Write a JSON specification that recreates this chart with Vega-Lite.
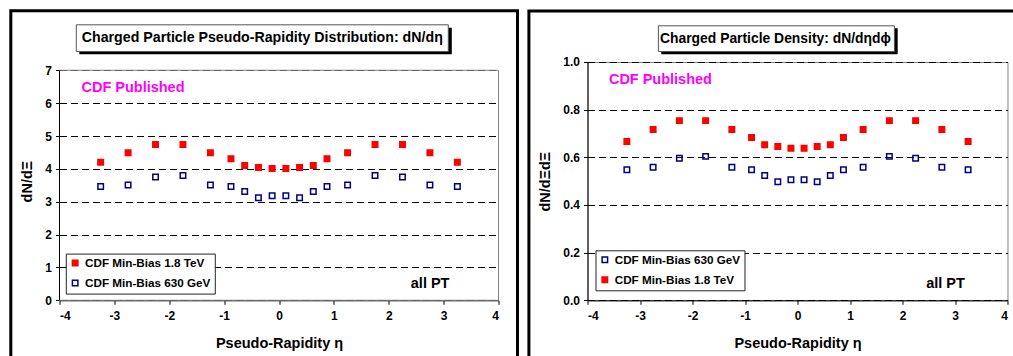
{
  "$schema": "https://vega.github.io/schema/vega-lite/v6.json",
  "padding": {"left": 8.5, "top": 9, "right": 0, "bottom": 0},
  "spacing": 7,
  "background": "white",
  "config": {
    "font": "Liberation Sans",
    "view": {"stroke": "#808080", "strokeWidth": 1},
    "axis": {
      "labelFont": "Liberation Sans", "labelFontWeight": "bold", "labelFontSize": 12, "labelColor": "black",
      "titleFont": "Liberation Sans", "titleFontWeight": "bold", "titleFontSize": 14.5, "titleColor": "black",
      "domainColor": "black", "tickColor": "black", "tickSize": 4
    },
    "axisY": {"grid": true, "gridColor": "black", "gridDash": [7, 4], "gridWidth": 1, "gridOpacity": 1, "labelPadding": 4, "titlePadding": 10},
    "axisX": {"grid": false, "labelPadding": 6, "titlePadding": 15},
    "legend": {
      "orient": "none", "strokeColor": "#222", "fillColor": "white", "padding": 3.5,
      "labelFont": "Liberation Sans", "labelFontSize": 11.7, "labelFontWeight": "bold", "labelColor": "black",
      "symbolType": "square", "symbolSize": 30, "symbolStrokeWidth": 1.5, "rowPadding": 7, "labelOffset": 4
    }
  },
  "datasets": {
    "left": [
      {"eta": -3.25, "val": 4.20, "series": "CDF Min-Bias 1.8 TeV"},
      {"eta": -2.75, "val": 4.49, "series": "CDF Min-Bias 1.8 TeV"},
      {"eta": -2.25, "val": 4.74, "series": "CDF Min-Bias 1.8 TeV"},
      {"eta": -1.75, "val": 4.74, "series": "CDF Min-Bias 1.8 TeV"},
      {"eta": -1.25, "val": 4.49, "series": "CDF Min-Bias 1.8 TeV"},
      {"eta": -0.875, "val": 4.31, "series": "CDF Min-Bias 1.8 TeV"},
      {"eta": -0.625, "val": 4.10, "series": "CDF Min-Bias 1.8 TeV"},
      {"eta": -0.375, "val": 4.04, "series": "CDF Min-Bias 1.8 TeV"},
      {"eta": -0.125, "val": 4.01, "series": "CDF Min-Bias 1.8 TeV"},
      {"eta": 0.125, "val": 4.01, "series": "CDF Min-Bias 1.8 TeV"},
      {"eta": 0.375, "val": 4.04, "series": "CDF Min-Bias 1.8 TeV"},
      {"eta": 0.625, "val": 4.10, "series": "CDF Min-Bias 1.8 TeV"},
      {"eta": 0.875, "val": 4.31, "series": "CDF Min-Bias 1.8 TeV"},
      {"eta": 1.25, "val": 4.49, "series": "CDF Min-Bias 1.8 TeV"},
      {"eta": 1.75, "val": 4.74, "series": "CDF Min-Bias 1.8 TeV"},
      {"eta": 2.25, "val": 4.74, "series": "CDF Min-Bias 1.8 TeV"},
      {"eta": 2.75, "val": 4.49, "series": "CDF Min-Bias 1.8 TeV"},
      {"eta": 3.25, "val": 4.20, "series": "CDF Min-Bias 1.8 TeV"},
      {"eta": -3.25, "val": 3.46, "series": "CDF Min-Bias 630 GeV"},
      {"eta": -2.75, "val": 3.51, "series": "CDF Min-Bias 630 GeV"},
      {"eta": -2.25, "val": 3.75, "series": "CDF Min-Bias 630 GeV"},
      {"eta": -1.75, "val": 3.80, "series": "CDF Min-Bias 630 GeV"},
      {"eta": -1.25, "val": 3.51, "series": "CDF Min-Bias 630 GeV"},
      {"eta": -0.875, "val": 3.46, "series": "CDF Min-Bias 630 GeV"},
      {"eta": -0.625, "val": 3.31, "series": "CDF Min-Bias 630 GeV"},
      {"eta": -0.375, "val": 3.12, "series": "CDF Min-Bias 630 GeV"},
      {"eta": -0.125, "val": 3.18, "series": "CDF Min-Bias 630 GeV"},
      {"eta": 0.125, "val": 3.18, "series": "CDF Min-Bias 630 GeV"},
      {"eta": 0.375, "val": 3.12, "series": "CDF Min-Bias 630 GeV"},
      {"eta": 0.625, "val": 3.31, "series": "CDF Min-Bias 630 GeV"},
      {"eta": 0.875, "val": 3.46, "series": "CDF Min-Bias 630 GeV"},
      {"eta": 1.25, "val": 3.51, "series": "CDF Min-Bias 630 GeV"},
      {"eta": 1.75, "val": 3.80, "series": "CDF Min-Bias 630 GeV"},
      {"eta": 2.25, "val": 3.75, "series": "CDF Min-Bias 630 GeV"},
      {"eta": 2.75, "val": 3.51, "series": "CDF Min-Bias 630 GeV"},
      {"eta": 3.25, "val": 3.46, "series": "CDF Min-Bias 630 GeV"}
    ],
    "right": [
      {"eta": -3.25, "val": 0.548, "series": "CDF Min-Bias 630 GeV"},
      {"eta": -2.75, "val": 0.558, "series": "CDF Min-Bias 630 GeV"},
      {"eta": -2.25, "val": 0.596, "series": "CDF Min-Bias 630 GeV"},
      {"eta": -1.75, "val": 0.604, "series": "CDF Min-Bias 630 GeV"},
      {"eta": -1.25, "val": 0.558, "series": "CDF Min-Bias 630 GeV"},
      {"eta": -0.875, "val": 0.548, "series": "CDF Min-Bias 630 GeV"},
      {"eta": -0.625, "val": 0.524, "series": "CDF Min-Bias 630 GeV"},
      {"eta": -0.375, "val": 0.497, "series": "CDF Min-Bias 630 GeV"},
      {"eta": -0.125, "val": 0.506, "series": "CDF Min-Bias 630 GeV"},
      {"eta": 0.125, "val": 0.506, "series": "CDF Min-Bias 630 GeV"},
      {"eta": 0.375, "val": 0.497, "series": "CDF Min-Bias 630 GeV"},
      {"eta": 0.625, "val": 0.524, "series": "CDF Min-Bias 630 GeV"},
      {"eta": 0.875, "val": 0.548, "series": "CDF Min-Bias 630 GeV"},
      {"eta": 1.25, "val": 0.558, "series": "CDF Min-Bias 630 GeV"},
      {"eta": 1.75, "val": 0.604, "series": "CDF Min-Bias 630 GeV"},
      {"eta": 2.25, "val": 0.596, "series": "CDF Min-Bias 630 GeV"},
      {"eta": 2.75, "val": 0.558, "series": "CDF Min-Bias 630 GeV"},
      {"eta": 3.25, "val": 0.548, "series": "CDF Min-Bias 630 GeV"},
      {"eta": -3.25, "val": 0.666, "series": "CDF Min-Bias 1.8 TeV"},
      {"eta": -2.75, "val": 0.717, "series": "CDF Min-Bias 1.8 TeV"},
      {"eta": -2.25, "val": 0.754, "series": "CDF Min-Bias 1.8 TeV"},
      {"eta": -1.75, "val": 0.754, "series": "CDF Min-Bias 1.8 TeV"},
      {"eta": -1.25, "val": 0.717, "series": "CDF Min-Bias 1.8 TeV"},
      {"eta": -0.875, "val": 0.683, "series": "CDF Min-Bias 1.8 TeV"},
      {"eta": -0.625, "val": 0.653, "series": "CDF Min-Bias 1.8 TeV"},
      {"eta": -0.375, "val": 0.645, "series": "CDF Min-Bias 1.8 TeV"},
      {"eta": -0.125, "val": 0.638, "series": "CDF Min-Bias 1.8 TeV"},
      {"eta": 0.125, "val": 0.638, "series": "CDF Min-Bias 1.8 TeV"},
      {"eta": 0.375, "val": 0.645, "series": "CDF Min-Bias 1.8 TeV"},
      {"eta": 0.625, "val": 0.653, "series": "CDF Min-Bias 1.8 TeV"},
      {"eta": 0.875, "val": 0.683, "series": "CDF Min-Bias 1.8 TeV"},
      {"eta": 1.25, "val": 0.717, "series": "CDF Min-Bias 1.8 TeV"},
      {"eta": 1.75, "val": 0.754, "series": "CDF Min-Bias 1.8 TeV"},
      {"eta": 2.25, "val": 0.754, "series": "CDF Min-Bias 1.8 TeV"},
      {"eta": 2.75, "val": 0.717, "series": "CDF Min-Bias 1.8 TeV"},
      {"eta": 3.25, "val": 0.666, "series": "CDF Min-Bias 1.8 TeV"}
    ]
  },
  "resolve": {
    "scale": {"fill": "independent", "stroke": "independent", "x": "independent", "y": "independent"},
    "legend": {"fill": "independent", "stroke": "independent"}
  },
  "hconcat": [
    {
      "width": 439,
      "height": 238.3,
      "view": {"stroke": null},
      "layer": [
        {
          "data": {"name": "left"},
          "mark": {"type": "point", "shape": "square", "size": 30, "strokeWidth": 1.5, "opacity": 1},
          "encoding": {
            "x": {"field": "eta", "type": "quantitative", "scale": {"domain": [-4, 4], "nice": false, "zero": false},
                  "axis": {"title": "Pseudo-Rapidity η", "values": [-4, -3, -2, -1, 0, 1, 2, 3, 4], "labelExpr": "'' + datum.value"}},
            "y": {"field": "val", "type": "quantitative", "scale": {"domain": [0, 7.2526], "nice": false, "zero": false},
                  "axis": {"title": "dN/dΞ", "values": [0, 1, 2, 3, 4, 5, 6, 7], "format": "d", "domain": false}},
            "fill": {"field": "series", "type": "nominal",
                     "scale": {"domain": ["CDF Min-Bias 1.8 TeV", "CDF Min-Bias 630 GeV"], "range": ["#ff0000", "transparent"]},
                     "legend": {"title": null, "legendX": 6.3, "legendY": 191.6}},
            "stroke": {"field": "series", "type": "nominal",
                       "scale": {"domain": ["CDF Min-Bias 1.8 TeV", "CDF Min-Bias 630 GeV"], "range": ["#ff0000", "#000080"]},
                       "legend": {"title": null, "legendX": 6.3, "legendY": 191.6}}
          }
        },
        {
          "data": {"values": [{}]},
          "mark": {"type": "rect", "fillOpacity": 0, "stroke": "#808080", "strokeWidth": 1},
          "encoding": {
            "x": {"datum": -4, "type": "quantitative", "scale": {"domain": [-4, 4], "nice": false, "zero": false},
                  "axis": {"title": "Pseudo-Rapidity η", "values": [-4, -3, -2, -1, 0, 1, 2, 3, 4], "labelExpr": "'' + datum.value"}},
            "x2": {"datum": 4},
            "y": {"datum": 7, "type": "quantitative", "scale": {"domain": [0, 7.2526], "nice": false, "zero": false},
                  "axis": {"title": "dN/dΞ", "values": [0, 1, 2, 3, 4, 5, 6, 7], "format": "d", "domain": false}},
            "y2": {"datum": 0}
          }
        },
        {
          "data": {"values": [{}]},
          "mark": {"type": "rule", "color": "black", "strokeWidth": 1},
          "encoding": {
            "x": {"datum": -4, "type": "quantitative", "scale": {"domain": [-4, 4], "nice": false, "zero": false},
                  "axis": {"title": "Pseudo-Rapidity η", "values": [-4, -3, -2, -1, 0, 1, 2, 3, 4], "labelExpr": "'' + datum.value"}},
            "y": {"datum": 7, "type": "quantitative", "scale": {"domain": [0, 7.2526], "nice": false, "zero": false},
                  "axis": {"title": "dN/dΞ", "values": [0, 1, 2, 3, 4, 5, 6, 7], "format": "d", "domain": false}},
            "y2": {"datum": 0}
          }
        },
        {
          "data": {"values": [{}]},
          "mark": {"type": "rect", "fillOpacity": 0, "stroke": "black", "strokeWidth": 3},
          "encoding": {
            "x": {"datum": -4.8875, "type": "quantitative", "scale": {"domain": [-4, 4], "nice": false, "zero": false},
                  "axis": {"title": "Pseudo-Rapidity η", "values": [-4, -3, -2, -1, 0, 1, 2, 3, 4], "labelExpr": "'' + datum.value"}},
            "x2": {"datum": 4.3462},
            "y": {"datum": 8.811, "type": "quantitative", "scale": {"domain": [0, 7.2526], "nice": false, "zero": false},
                  "axis": {"title": "dN/dΞ", "values": [0, 1, 2, 3, 4, 5, 6, 7], "format": "d", "domain": false}},
            "y2": {"datum": -1.887}
          }
        },
        {
          "data": {"values": [{}]},
          "mark": {"type": "rect", "fill": "black"},
          "encoding": {
            "x": {"datum": -3.639, "type": "quantitative", "scale": {"domain": [-4, 4], "nice": false, "zero": false},
                  "axis": {"title": "Pseudo-Rapidity η", "values": [-4, -3, -2, -1, 0, 1, 2, 3, 4], "labelExpr": "'' + datum.value"}},
            "x2": {"datum": 3.149},
            "y": {"datum": 8.2935, "type": "quantitative", "scale": {"domain": [0, 7.2526], "nice": false, "zero": false},
                  "axis": {"title": "dN/dΞ", "values": [0, 1, 2, 3, 4, 5, 6, 7], "format": "d", "domain": false}},
            "y2": {"datum": 7.487}
          }
        },
        {
          "data": {"values": [{}]},
          "mark": {"type": "rect", "fill": "white", "stroke": "#555", "strokeWidth": 1},
          "encoding": {
            "x": {"datum": -3.694, "type": "quantitative", "scale": {"domain": [-4, 4], "nice": false, "zero": false},
                  "axis": {"title": "Pseudo-Rapidity η", "values": [-4, -3, -2, -1, 0, 1, 2, 3, 4], "labelExpr": "'' + datum.value"}},
            "x2": {"datum": 3.0852},
            "y": {"datum": 8.3848, "type": "quantitative", "scale": {"domain": [0, 7.2526], "nice": false, "zero": false},
                  "axis": {"title": "dN/dΞ", "values": [0, 1, 2, 3, 4, 5, 6, 7], "format": "d", "domain": false}},
            "y2": {"datum": 7.5722}
          }
        },
        {
          "data": {"values": [{"label": "Charged Particle Pseudo-Rapidity Distribution: dN/dη"}]},
          "mark": {"type": "text", "font": "Liberation Sans", "fontWeight": "bold", "fontSize": 14.2, "align": "center", "baseline": "middle", "color": "black"},
          "encoding": {
            "x": {"datum": -0.3043, "type": "quantitative", "scale": {"domain": [-4, 4], "nice": false, "zero": false},
                  "axis": {"title": "Pseudo-Rapidity η", "values": [-4, -3, -2, -1, 0, 1, 2, 3, 4], "labelExpr": "'' + datum.value"}},
            "y": {"datum": 7.974, "type": "quantitative", "scale": {"domain": [0, 7.2526], "nice": false, "zero": false},
                  "axis": {"title": "dN/dΞ", "values": [0, 1, 2, 3, 4, 5, 6, 7], "format": "d", "domain": false}},
            "text": {"field": "label"}
          }
        },
        {
          "data": {"values": [{"label": "CDF Published"}]},
          "mark": {"type": "text", "font": "Liberation Sans", "fontWeight": "bold", "fontSize": 14.5, "align": "left", "baseline": "middle", "color": "#ff00ff"},
          "encoding": {
            "x": {"datum": -3.599, "type": "quantitative", "scale": {"domain": [-4, 4], "nice": false, "zero": false},
                  "axis": {"title": "Pseudo-Rapidity η", "values": [-4, -3, -2, -1, 0, 1, 2, 3, 4], "labelExpr": "'' + datum.value"}},
            "y": {"datum": 6.461, "type": "quantitative", "scale": {"domain": [0, 7.2526], "nice": false, "zero": false},
                  "axis": {"title": "dN/dΞ", "values": [0, 1, 2, 3, 4, 5, 6, 7], "format": "d", "domain": false}},
            "text": {"field": "label"}
          }
        },
        {
          "data": {"values": [{"label": "all PT"}]},
          "mark": {"type": "text", "font": "Liberation Sans", "fontWeight": "bold", "fontSize": 14.5, "align": "left", "baseline": "middle", "color": "black"},
          "encoding": {
            "x": {"datum": 2.402, "type": "quantitative", "scale": {"domain": [-4, 4], "nice": false, "zero": false},
                  "axis": {"title": "Pseudo-Rapidity η", "values": [-4, -3, -2, -1, 0, 1, 2, 3, 4], "labelExpr": "'' + datum.value"}},
            "y": {"datum": 0.508, "type": "quantitative", "scale": {"domain": [0, 7.2526], "nice": false, "zero": false},
                  "axis": {"title": "dN/dΞ", "values": [0, 1, 2, 3, 4, 5, 6, 7], "format": "d", "domain": false}},
            "text": {"field": "label"}
          }
        }
      ]
    },
    {
      "width": 420,
      "height": 238.3,
      "layer": [
        {
          "data": {"name": "right"},
          "mark": {"type": "point", "shape": "square", "size": 30, "strokeWidth": 1.5, "opacity": 1},
          "encoding": {
            "x": {"field": "eta", "type": "quantitative", "scale": {"domain": [-4, 4], "nice": false, "zero": false},
                  "axis": {"title": "Pseudo-Rapidity η", "values": [-4, -3, -2, -1, 0, 1, 2, 3, 4], "labelExpr": "'' + datum.value"}},
            "y": {"field": "val", "type": "quantitative", "scale": {"domain": [0, 1], "nice": false, "zero": false},
                  "axis": {"title": "dN/dΞdΞ", "values": [0, 0.2, 0.4, 0.6, 0.8, 1.0], "format": ".1f"}},
            "fill": {"field": "series", "type": "nominal",
                     "scale": {"domain": ["CDF Min-Bias 630 GeV", "CDF Min-Bias 1.8 TeV"], "range": ["transparent", "#ff0000"]},
                     "legend": {"title": null, "legendX": 8, "legendY": 188.3}},
            "stroke": {"field": "series", "type": "nominal",
                       "scale": {"domain": ["CDF Min-Bias 630 GeV", "CDF Min-Bias 1.8 TeV"], "range": ["#000080", "#ff0000"]},
                       "legend": {"title": null, "legendX": 8, "legendY": 188.3}}
          }
        },
        {
          "data": {"values": [{}]},
          "mark": {"type": "rect", "fillOpacity": 0, "stroke": "black", "strokeWidth": 3},
          "encoding": {
            "x": {"datum": -5.1162, "type": "quantitative", "scale": {"domain": [-4, 4], "nice": false, "zero": false},
                  "axis": {"title": "Pseudo-Rapidity η", "values": [-4, -3, -2, -1, 0, 1, 2, 3, 4], "labelExpr": "'' + datum.value"}},
            "x2": {"datum": 4.2038},
            "y": {"datum": 1.214, "type": "quantitative", "scale": {"domain": [0, 1], "nice": false, "zero": false},
                  "axis": {"title": "dN/dΞdΞ", "values": [0, 0.2, 0.4, 0.6, 0.8, 1.0], "format": ".1f"}},
            "y2": {"datum": -0.26}
          }
        },
        {
          "data": {"values": [{}]},
          "mark": {"type": "rect", "fill": "black"},
          "encoding": {
            "x": {"datum": -2.596, "type": "quantitative", "scale": {"domain": [-4, 4], "nice": false, "zero": false},
                  "axis": {"title": "Pseudo-Rapidity η", "values": [-4, -3, -2, -1, 0, 1, 2, 3, 4], "labelExpr": "'' + datum.value"}},
            "x2": {"datum": 1.9086},
            "y": {"datum": 1.1414, "type": "quantitative", "scale": {"domain": [0, 1], "nice": false, "zero": false},
                  "axis": {"title": "dN/dΞdΞ", "values": [0, 0.2, 0.4, 0.6, 0.8, 1.0], "format": ".1f"}},
            "y2": {"datum": 1.0323}
          }
        },
        {
          "data": {"values": [{}]},
          "mark": {"type": "rect", "fill": "white", "stroke": "#555", "strokeWidth": 1},
          "encoding": {
            "x": {"datum": -2.6495, "type": "quantitative", "scale": {"domain": [-4, 4], "nice": false, "zero": false},
                  "axis": {"title": "Pseudo-Rapidity η", "values": [-4, -3, -2, -1, 0, 1, 2, 3, 4], "labelExpr": "'' + datum.value"}},
            "x2": {"datum": 1.8457},
            "y": {"datum": 1.1519, "type": "quantitative", "scale": {"domain": [0, 1], "nice": false, "zero": false},
                  "axis": {"title": "dN/dΞdΞ", "values": [0, 0.2, 0.4, 0.6, 0.8, 1.0], "format": ".1f"}},
            "y2": {"datum": 1.0441}
          }
        },
        {
          "data": {"values": [{"label": "Charged Particle Density: dN/dηdϕ"}]},
          "mark": {"type": "text", "font": "Liberation Sans", "fontWeight": "bold", "fontSize": 13.9, "align": "center", "baseline": "middle", "color": "black"},
          "encoding": {
            "x": {"datum": -0.42, "type": "quantitative", "scale": {"domain": [-4, 4], "nice": false, "zero": false},
                  "axis": {"title": "Pseudo-Rapidity η", "values": [-4, -3, -2, -1, 0, 1, 2, 3, 4], "labelExpr": "'' + datum.value"}},
            "y": {"datum": 1.0974, "type": "quantitative", "scale": {"domain": [0, 1], "nice": false, "zero": false},
                  "axis": {"title": "dN/dΞdΞ", "values": [0, 0.2, 0.4, 0.6, 0.8, 1.0], "format": ".1f"}},
            "text": {"field": "label"}
          }
        },
        {
          "data": {"values": [{"label": "CDF Published"}]},
          "mark": {"type": "text", "font": "Liberation Sans", "fontWeight": "bold", "fontSize": 14.5, "align": "left", "baseline": "middle", "color": "#ff00ff"},
          "encoding": {
            "x": {"datum": -3.592, "type": "quantitative", "scale": {"domain": [-4, 4], "nice": false, "zero": false},
                  "axis": {"title": "Pseudo-Rapidity η", "values": [-4, -3, -2, -1, 0, 1, 2, 3, 4], "labelExpr": "'' + datum.value"}},
            "y": {"datum": 0.923, "type": "quantitative", "scale": {"domain": [0, 1], "nice": false, "zero": false},
                  "axis": {"title": "dN/dΞdΞ", "values": [0, 0.2, 0.4, 0.6, 0.8, 1.0], "format": ".1f"}},
            "text": {"field": "label"}
          }
        },
        {
          "data": {"values": [{"label": "all PT"}]},
          "mark": {"type": "text", "font": "Liberation Sans", "fontWeight": "bold", "fontSize": 14.5, "align": "left", "baseline": "middle", "color": "black"},
          "encoding": {
            "x": {"datum": 2.451, "type": "quantitative", "scale": {"domain": [-4, 4], "nice": false, "zero": false},
                  "axis": {"title": "Pseudo-Rapidity η", "values": [-4, -3, -2, -1, 0, 1, 2, 3, 4], "labelExpr": "'' + datum.value"}},
            "y": {"datum": 0.07, "type": "quantitative", "scale": {"domain": [0, 1], "nice": false, "zero": false},
                  "axis": {"title": "dN/dΞdΞ", "values": [0, 0.2, 0.4, 0.6, 0.8, 1.0], "format": ".1f"}},
            "text": {"field": "label"}
          }
        }
      ]
    }
  ]
}
